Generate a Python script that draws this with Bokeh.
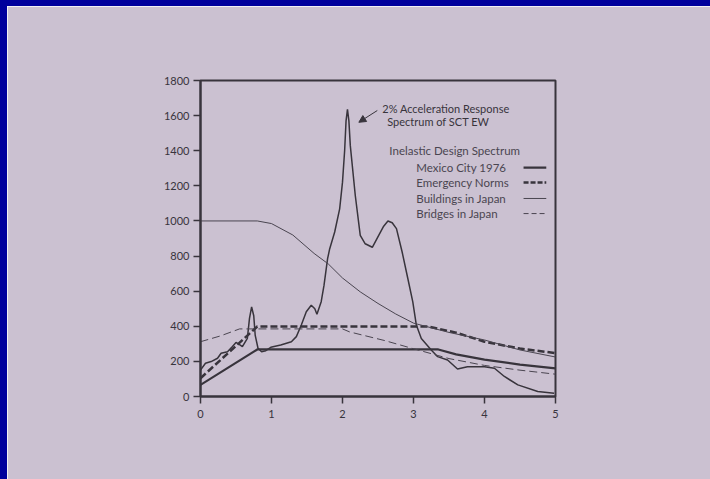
from math import pi
from bokeh.plotting import figure
from bokeh.models import Label, Arrow, NormalHead, FixedTicker, Range1d, InlineStyleSheet
from bokeh.embed import file_html
from bokeh.resources import INLINE

# ---------------- data ----------------
x_ticks = [0, 1, 2, 3, 4, 5]
y_ticks = [0, 200, 400, 600, 800, 1000, 1200, 1400, 1600, 1800]

# 2% acceleration response spectrum of SCT EW
sct_T = [0.0, 0.07, 0.15, 0.24, 0.29, 0.38, 0.45, 0.50, 0.55, 0.59, 0.66, 0.69, 0.72, 0.75,
         0.77, 0.81, 0.86, 0.92, 0.99, 1.13, 1.28, 1.35, 1.42, 1.49, 1.56, 1.61, 1.64, 1.70,
         1.74, 1.79, 1.82, 1.89, 1.96, 2.00, 2.03, 2.05, 2.07, 2.09, 2.11, 2.18, 2.25, 2.32,
         2.42, 2.51, 2.58, 2.64, 2.70, 2.76, 2.84, 2.92, 2.99, 3.04, 3.11, 3.25, 3.34, 3.48,
         3.62, 3.76, 4.00, 4.14, 4.28, 4.47, 4.75, 4.98]
sct_A = [151, 189, 199, 218, 246, 255, 285, 308, 295, 284, 331, 445, 510, 460,
         350, 275, 255, 261, 280, 293, 312, 341, 407, 483, 520, 500, 468, 540,
         634, 785, 842, 937, 1069, 1221, 1400, 1570, 1635, 1570, 1429, 1145, 918, 870,
         850, 918, 970, 1000, 990, 956, 823, 672, 539, 407, 331, 265, 227, 208,
         157, 170, 170, 161, 114, 66, 28, 19]

# Mexico City 1976
mex_T = [0.0, 0.8, 3.35, 3.6, 4.0, 4.5, 5.0]
mex_A = [66, 268, 268, 240, 210, 182, 160]

# Emergency Norms
emg_T = [0.0, 0.8, 3.2, 3.6, 4.0, 4.5, 5.0]
emg_A = [104, 399, 399, 364, 312, 273, 247]

# Buildings in Japan
bld_T = [0.0, 0.8, 1.0, 1.3, 1.6, 1.8, 2.0, 2.25, 2.5, 2.75, 3.0, 3.5, 4.0, 4.5, 5.0]
bld_A = [1000, 1000, 985, 920, 815, 755, 675, 596, 530, 470, 418, 365, 322, 265, 225]

# Bridges in Japan
brg_T = [0.0, 0.28, 0.55, 2.0, 2.1, 2.6, 3.0, 3.5, 4.0, 4.5, 5.0]
brg_A = [312, 345, 385, 385, 368, 318, 272, 216, 177, 150, 127]

legend_title = "Inelastic Design Spectrum"
legend_labels = ["Mexico City 1976", "Emergency Norms", "Buildings in Japan", "Bridges in Japan"]
# ---------------------------------------

BG = "#cbc1d1"
BLUE = "#00009c"
INK = "#38343c"
INK2 = "#4a4550"
FONT = "Lato"

# plot with a blue slide-mount edge of 7px (left) and 6px (top)
p = figure(width=703, height=473, x_range=Range1d(0, 5), y_range=Range1d(0, 1800),
           output_backend="svg", toolbar_location=None,
           min_border_left=193, min_border_right=162, min_border_top=74, min_border_bottom=89)
p.stylesheets = [InlineStyleSheet(
    css=":host { box-sizing: content-box !important; border-left: 7px solid %s; border-top: 6px solid %s; }"
        % (BLUE, BLUE))]
p.background_fill_color = BG
p.border_fill_color = BG
p.outline_line_color = INK
p.outline_line_width = 2
p.outline_line_alpha = 1
p.grid.visible = False

for ax in (p.xaxis[0], p.yaxis[0]):
    ax.axis_line_color = INK
    ax.axis_line_width = 2
    ax.major_tick_line_color = INK
    ax.major_tick_line_width = 1.5
    ax.major_tick_in = 0
    ax.major_tick_out = 7
    ax.minor_tick_line_color = None
    ax.major_label_text_font = FONT
    ax.major_label_text_font_size = "11px"
    ax.major_label_text_color = INK
p.xaxis.ticker = FixedTicker(ticks=x_ticks)
p.yaxis.ticker = FixedTicker(ticks=y_ticks)
p.xaxis.major_label_standoff = 6
p.yaxis.major_label_standoff = 4

# curves
p.line(sct_T, sct_A, line_color=INK, line_width=1.5)
p.line(mex_T, mex_A, line_color=INK, line_width=2.2)
p.line(emg_T, emg_A, line_color=INK, line_width=2.5, line_dash="7 3")
p.line(bld_T, bld_A, line_color=INK2, line_width=1)
p.line(brg_T, brg_A, line_color=INK2, line_width=1, line_dash="8 4")

# axis titles
p.add_layout(Label(x=3.61, y=-194, text="Period (sec)", text_align="center", text_baseline="middle",
                   text_font=FONT, text_font_size="13px", text_color=INK))
p.add_layout(Label(x=-0.61, y=951, text="Acceleration (gal)", angle=pi / 2, text_align="center",
                   text_baseline="middle", text_font=FONT, text_font_size="13px", text_color=INK))

# annotation
p.add_layout(Arrow(end=NormalHead(size=7, fill_color=INK, line_color=INK),
                   x_start=2.49, y_start=1629, x_end=2.23, y_end=1562, line_color=INK, line_width=1))
p.add_layout(Label(x=2.56, y=1640, text="2% Acceleration Response", text_baseline="middle",
                   text_font=FONT, text_font_size="11px", text_color=INK))
p.add_layout(Label(x=2.63, y=1566, text="Spectrum of SCT EW", text_baseline="middle",
                   text_font=FONT, text_font_size="11px", text_color=INK))

# legend (labels left, samples right)
p.add_layout(Label(x=2.66, y=1401, text=legend_title, text_baseline="middle",
                   text_font=FONT, text_font_size="11.5px", text_color=INK2))
leg_y = [1304, 1219, 1128, 1042]
leg_style = [(2.2, None, INK), (2.5, "5 2", INK), (1, None, INK2), (1, "5 3", INK2)]
for lbl, yy, (lw, dash, col) in zip(legend_labels, leg_y, leg_style):
    p.add_layout(Label(x=3.04, y=yy, text=lbl, text_baseline="middle",
                       text_font=FONT, text_font_size="11.5px", text_color=INK2))
    kw = dict(line_color=col, line_width=lw)
    if dash:
        kw["line_dash"] = dash
    p.segment(x0=[4.55], y0=[yy], x1=[4.87], y1=[yy], **kw)

open("out.html", "w").write(file_html(p, INLINE))
